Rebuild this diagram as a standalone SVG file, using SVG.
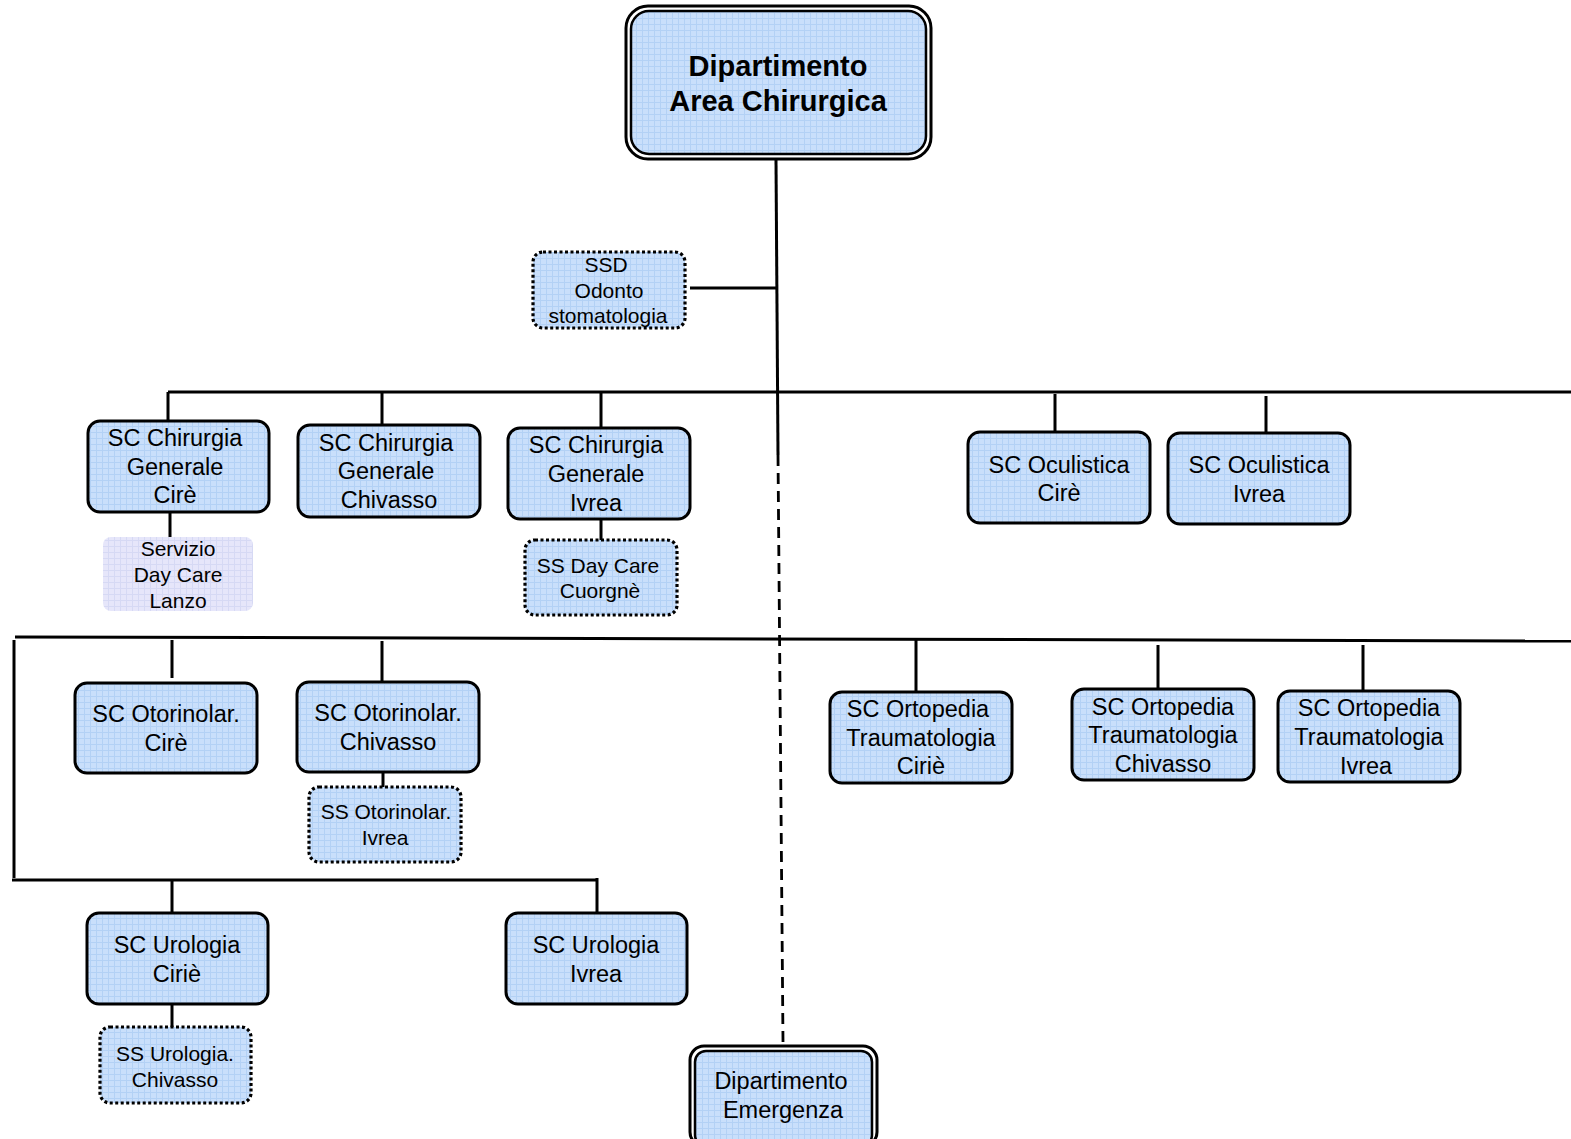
<svg xmlns="http://www.w3.org/2000/svg" width="1571" height="1139" viewBox="0 0 1571 1139">
<defs>
<pattern id="grid" width="6" height="6" patternUnits="userSpaceOnUse">
<rect width="6" height="6" fill="#c9dffb"/>
<path d="M0 0.5H6M0.5 0V6" stroke="#b3d1f5" stroke-width="1"/>
</pattern>
<pattern id="grid2" width="6" height="6" patternUnits="userSpaceOnUse">
<rect width="6" height="6" fill="#e6e6fa"/>
<path d="M0 0.5H6M0.5 0V6" stroke="#d6d9f4" stroke-width="1"/>
</pattern>
</defs>
<style>
.box{fill:url(#grid);stroke:#000;stroke-width:3}
.dot{fill:url(#grid);stroke:#000;stroke-width:3.2;stroke-dasharray:3 2.5}
.outer{fill:#fff;stroke:#000;stroke-width:3}
.inner{fill:url(#grid);stroke:#000;stroke-width:2.5}
.lz{fill:url(#grid2);stroke:none}
text{font-family:"Liberation Sans",Arial,sans-serif;fill:#000;text-anchor:middle}
.t{font-size:23.5px}
.s{font-size:21px}
.b{font-size:29px;font-weight:bold}
.ln{stroke:#000;stroke-width:3;fill:none}
.dash{stroke:#000;stroke-width:2.8;fill:none;stroke-dasharray:11 7}
</style>
<g id="connectors">
<path class="ln" d="M776 160L778 455"/>
<path class="dash" d="M778 455L783 1042"/>
<path class="ln" d="M690 288H777"/>
<path class="ln" d="M168 392H1571"/>
<path class="ln" d="M168 392V421M382 392V425M601 392V428M1055 394V432M1266 396V433"/>
<path class="ln" d="M170 512V537M601 519V540"/>
<path class="ln" d="M15 637L1571 641"/>
<path class="ln" d="M14 640V878"/>
<path class="ln" d="M12 880H597"/>
<path class="ln" d="M172 640V678M382 641V682M916 640V692M1158 645V689M1363 645V691"/>
<path class="ln" d="M383 772V787"/>
<path class="ln" d="M172 880V913M597 878V913"/>
<path class="ln" d="M172 1004V1027"/>
</g>
<g id="dip-chirurgica">
<rect class="outer" x="626" y="6" width="305" height="153" rx="22"/>
<rect class="inner" x="631" y="11" width="295" height="143" rx="18"/>
<text class="b" x="778" y="76">Dipartimento</text>
<text class="b" x="778" y="111">Area Chirurgica</text>
</g>
<g id="ssd-odonto">
<rect class="dot" x="533" y="252" width="152" height="76" rx="10"/>
<text class="s" x="606" y="272">SSD</text>
<text class="s" x="609" y="298">Odonto</text>
<text class="s" x="608" y="323">stomatologia</text>
</g>
<g id="sc-chir-cirie">
<rect class="box" x="88" y="421" width="181" height="91" rx="12"/>
<text class="t" x="175" y="446">SC Chirurgia</text>
<text class="t" x="175" y="475">Generale</text>
<text class="t" x="175" y="503">Cirè</text>
</g>
<g id="servizio-lanzo">
<rect class="lz" x="103" y="537" width="150" height="74" rx="8"/>
<text class="s" x="178" y="556">Servizio</text>
<text class="s" x="178" y="582">Day Care</text>
<text class="s" x="178" y="608">Lanzo</text>
</g>
<g id="sc-chir-chivasso">
<rect class="box" x="298" y="425" width="182" height="92" rx="12"/>
<text class="t" x="386" y="451">SC Chirurgia</text>
<text class="t" x="386" y="479">Generale</text>
<text class="t" x="389" y="508">Chivasso</text>
</g>
<g id="sc-chir-ivrea">
<rect class="box" x="508" y="428" width="182" height="91" rx="12"/>
<text class="t" x="596" y="453">SC Chirurgia</text>
<text class="t" x="596" y="482">Generale</text>
<text class="t" x="596" y="511">Ivrea</text>
</g>
<g id="ss-cuorgne">
<rect class="dot" x="525" y="540" width="152" height="75" rx="10"/>
<text class="s" x="598" y="573">SS Day Care</text>
<text class="s" x="600" y="598">Cuorgnè</text>
</g>
<g id="sc-ocul-cirie">
<rect class="box" x="968" y="432" width="182" height="91" rx="12"/>
<text class="t" x="1059" y="473">SC Oculistica</text>
<text class="t" x="1059" y="501">Cirè</text>
</g>
<g id="sc-ocul-ivrea">
<rect class="box" x="1168" y="433" width="182" height="91" rx="12"/>
<text class="t" x="1259" y="473">SC Oculistica</text>
<text class="t" x="1259" y="502">Ivrea</text>
</g>
<g id="sc-oto-cirie">
<rect class="box" x="75" y="683" width="182" height="90" rx="12"/>
<text class="t" x="166" y="722">SC Otorinolar.</text>
<text class="t" x="166" y="751">Cirè</text>
</g>
<g id="sc-oto-chivasso">
<rect class="box" x="297" y="682" width="182" height="90" rx="12"/>
<text class="t" x="388" y="721">SC Otorinolar.</text>
<text class="t" x="388" y="750">Chivasso</text>
</g>
<g id="ss-oto-ivrea">
<rect class="dot" x="309" y="787" width="152" height="75" rx="10"/>
<text class="s" x="386" y="819">SS Otorinolar.</text>
<text class="s" x="385" y="845">Ivrea</text>
</g>
<g id="sc-orto-cirie">
<rect class="box" x="830" y="692" width="182" height="91" rx="12"/>
<text class="t" x="918" y="717">SC Ortopedia</text>
<text class="t" x="921" y="746">Traumatologia</text>
<text class="t" x="921" y="774">Ciriè</text>
</g>
<g id="sc-orto-chivasso">
<rect class="box" x="1072" y="689" width="182" height="91" rx="12"/>
<text class="t" x="1163" y="715">SC Ortopedia</text>
<text class="t" x="1163" y="743">Traumatologia</text>
<text class="t" x="1163" y="772">Chivasso</text>
</g>
<g id="sc-orto-ivrea">
<rect class="box" x="1278" y="691" width="182" height="91" rx="12"/>
<text class="t" x="1369" y="716">SC Ortopedia</text>
<text class="t" x="1369" y="745">Traumatologia</text>
<text class="t" x="1366" y="774">Ivrea</text>
</g>
<g id="sc-uro-cirie">
<rect class="box" x="87" y="913" width="181" height="91" rx="12"/>
<text class="t" x="177" y="953">SC Urologia</text>
<text class="t" x="177" y="982">Ciriè</text>
</g>
<g id="sc-uro-ivrea">
<rect class="box" x="506" y="913" width="181" height="91" rx="12"/>
<text class="t" x="596" y="953">SC Urologia</text>
<text class="t" x="596" y="982">Ivrea</text>
</g>
<g id="ss-uro-chivasso">
<rect class="dot" x="100" y="1027" width="151" height="76" rx="10"/>
<text class="s" x="175" y="1061">SS Urologia.</text>
<text class="s" x="175" y="1087">Chivasso</text>
</g>
<g id="dip-emergenza">
<rect class="outer" x="690" y="1046" width="187" height="100" rx="14"/>
<rect class="inner" x="695" y="1051" width="177" height="95" rx="11"/>
<text class="t" x="781" y="1089">Dipartimento</text>
<text class="t" x="783" y="1118">Emergenza</text>
</g>
</svg>
